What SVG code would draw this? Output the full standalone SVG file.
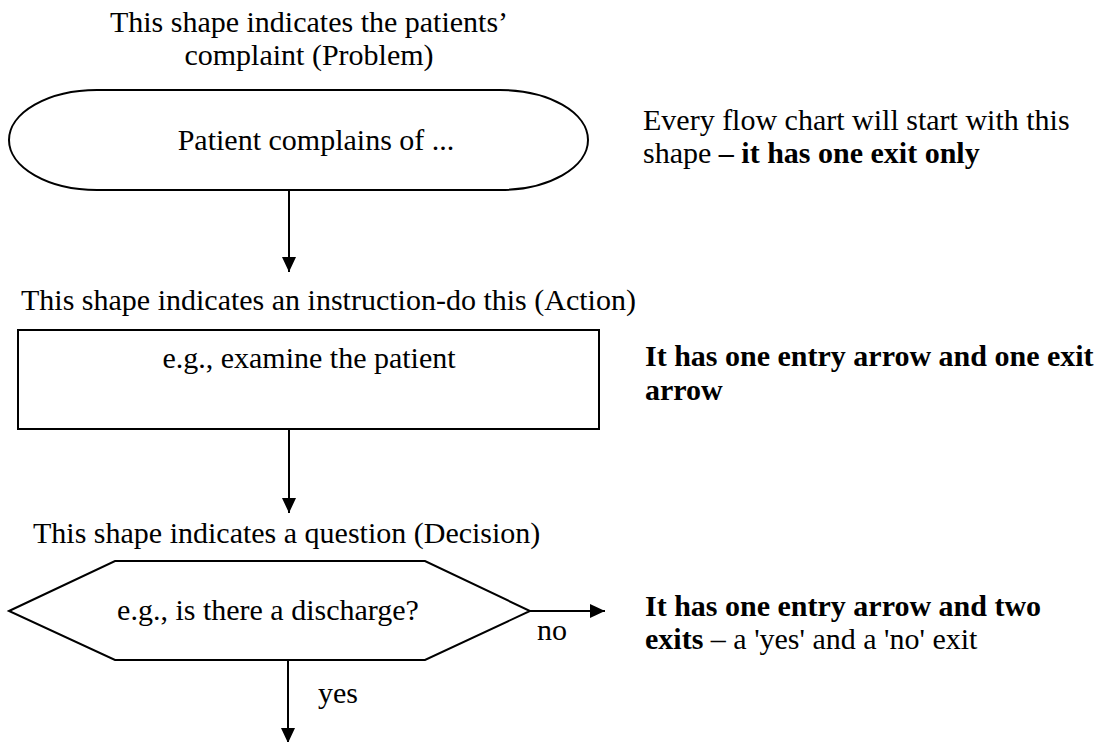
<svg xmlns="http://www.w3.org/2000/svg" width="1108" height="742" viewBox="0 0 1108 742">
  <style>
    text { font-family: "Liberation Serif", "DejaVu Serif", serif; font-size: 30px; fill: #000; }
    .b { font-weight: bold; }
    .mid { text-anchor: middle; }
    .shape { fill: #fff; stroke: #000; stroke-width: 2; }
    .conn { stroke: #000; stroke-width: 2; fill: none; marker-end: url(#head); }
  </style>
  <defs>
    <marker id="head" viewBox="0 0 15 14" refX="15" refY="7" markerWidth="15" markerHeight="14" markerUnits="userSpaceOnUse" orient="auto">
      <path d="M0,0 L15,7 L0,14 z" fill="#000"/>
    </marker>
  </defs>

  <rect width="1108" height="742" fill="#fff"/>

  <!-- start / problem terminator -->
  <g id="problem">
    <text class="mid" x="309" y="32">This shape indicates the patients’</text>
    <text class="mid" x="309" y="65">complaint (Problem)</text>
    <rect class="shape" x="9" y="90" width="579" height="100" rx="88" ry="50"/>
    <text class="mid" x="316" y="150">Patient complains of ...</text>
  </g>

  <!-- action box -->
  <g id="action">
    <text x="21" y="310">This shape indicates an instruction-do this (Action)</text>
    <rect class="shape" x="18" y="330" width="581" height="99"/>
    <text class="mid" x="309" y="368">e.g., examine the patient</text>
  </g>

  <!-- decision hexagon -->
  <g id="decision">
    <text x="33" y="543">This shape indicates a question (Decision)</text>
    <polygon class="shape" points="9,611 115,561 425,561 530,611 425,660 115,660"/>
    <text class="mid" x="268" y="620">e.g., is there a discharge?</text>
  </g>

  <!-- notes on the right -->
  <g id="note-problem">
    <text x="643" y="130">Every flow chart will start with this</text>
    <text x="643" y="163">shape <tspan class="b">– it has one exit only</tspan></text>
  </g>
  <g id="note-action">
    <text class="b" x="645" y="366">It has one entry arrow and one exit</text>
    <text class="b" x="645" y="400">arrow</text>
  </g>
  <g id="note-decision">
    <text class="b" x="645" y="616">It has one entry arrow and two</text>
    <text x="645" y="649"><tspan class="b">exits</tspan> – a 'yes' and a 'no' exit</text>
  </g>

  <!-- connectors -->
  <g id="connectors">
    <line class="conn" x1="289" y1="190" x2="289" y2="272"/>
    <line class="conn" x1="289" y1="429" x2="289" y2="513"/>
    <line class="conn" x1="530" y1="611" x2="605" y2="611"/>
    <line class="conn" x1="288" y1="660" x2="288" y2="743"/>
    <text x="537" y="640">no</text>
    <text x="318" y="703">yes</text>
  </g>
</svg>
